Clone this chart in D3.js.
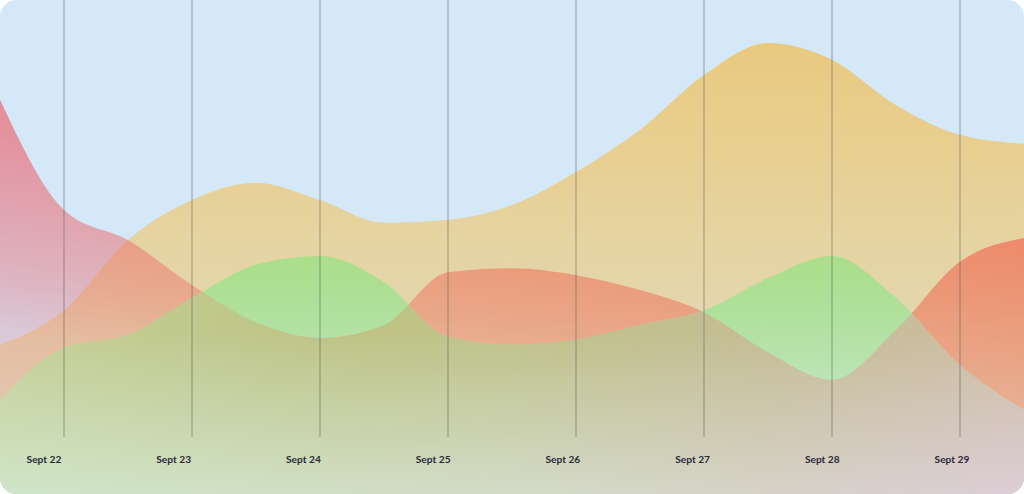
<!DOCTYPE html>
<html><head><meta charset="utf-8">
<script src="https://cdn.jsdelivr.net/npm/d3@7"></script>
<style>
html,body{margin:0;padding:0;background:#fff;}
svg{display:block;}
</style></head><body>
<svg id="chart" width="1024" height="494"></svg>
<script>
// ---- data ----
const days = ["Sept 22","Sept 23","Sept 24","Sept 25","Sept 26","Sept 27","Sept 28","Sept 29"];
const dayValues = [22,23,24,25,26,27,28,29];
const steps = [21.5,22,22.5,23,23.5,24,24.5,25,25.5,26,26.5,27,27.5,28,28.5,29,29.5];
const orangeSeries = [30.2,37.2,51.4,59.5,63.0,59.5,54.9,55.5,58.5,65.2,73.7,84.8,91.3,87.9,78.7,72.7,70.9];
const redSeries    = [79.8,57.5,51.4,42.3,34.8,31.6,34.2,44.9,45.7,44.3,41.3,36.8,28.7,23.1,33.2,47.0,51.8];
const greenSeries  = [19.0,29.6,32.2,39.7,46.4,48.2,42.9,31.8,30.2,31.2,34.2,37.2,43.7,48.2,39.7,26.1,17.0];

// ---- layout ----
const W = 1024, H = 494;
const svg = d3.select("#chart");
const defs = svg.append("defs");

const x = d3.scaleLinear().domain([21.5, 29.5]).range([0, W]);
const y = d3.scaleLinear().domain([0, 100]).range([H, 0]);
const xLabel = d3.scalePoint().domain(days).range([44, 952]);

function linGrad(id, a, stops) {
  const gr = defs.append("linearGradient").attr("id", id).attr("gradientUnits", "userSpaceOnUse")
    .attr("x1", a[0]).attr("y1", a[1]).attr("x2", a[2]).attr("y2", a[3]);
  stops.forEach(s => gr.append("stop").attr("offset", s[0]).attr("stop-color", s[1])
    .attr("stop-opacity", s[2] === undefined ? 1 : s[2]));
}

linGrad("orangeGrad", [0, 40, 0, 494], [
  [0, "#e9c97f"], [0.242, "#e8cf91"], [0.463, "#e5d4a3"], [0.683, "#e2d8b2"], [1, "#e0dcc4"]]);
linGrad("redColor", [0, 0, 1024, 0], [
  [0, "#ea6f7a"], [0.12, "#ec6f70"], [0.22, "#f06e5e"], [1, "#f06e55"]]);
linGrad("redMaskGrad", [0, 0, -53.7, 488], [
  [0, "#fff", 0.78], [0.202, "#fff", 0.76], [0.304, "#fff", 0.68], [0.405, "#fff", 0.58],
  [0.567, "#fff", 0.42], [0.668, "#fff", 0.26], [0.81, "#fff", 0.18], [1, "#fff", 0.15]]);
linGrad("greenGrad", [0, 250, 0, 494], [
  [0, "#a9de87"], [0.205, "#aee098"], [0.369, "#b4e2a6"], [0.574, "#bee5b8"], [1, "#cde8cc"]]);
linGrad("oliveTop", [0, 0, 1024, 0], [
  [0, "#c5cf95"], [0.2, "#c0c88c"], [0.35, "#bec384"], [0.5, "#bfc289"], [0.7, "#c4be92"],
  [0.8, "#c7bc96"], [1, "#cdbea3"]]);
linGrad("oliveBot", [0, 0, 1024, 0], [
  [0, "#d0e5c8"], [0.3, "#d0dfc5"], [0.5, "#d3dbc8"], [0.75, "#d6d2c8"], [1, "#dccdd6"]]);
linGrad("oliveMaskGrad", [0, 330, 0, 494], [[0, "#000"], [1, "#fff"]]);

function addMask(id, gradId) {
  defs.append("mask").attr("id", id).attr("maskUnits", "userSpaceOnUse")
    .attr("x", 0).attr("y", 0).attr("width", W).attr("height", H)
    .append("rect").attr("width", W).attr("height", H).attr("fill", `url(#${gradId})`);
}
addMask("redMask", "redMaskGrad");
addMask("oliveMask", "oliveMaskGrad");

defs.append("clipPath").attr("id", "frame").append("rect")
  .attr("width", W).attr("height", H).attr("rx", 17).attr("ry", 17);

const area = d3.area()
  .x((d, i) => x(steps[i]))
  .y0(H)
  .y1(d => y(d))
  .curve(d3.curveMonotoneX);

defs.append("clipPath").attr("id", "redClip").append("path").datum(redSeries).attr("d", area);

const g = svg.append("g").attr("clip-path", "url(#frame)");
g.append("rect").attr("width", W).attr("height", H).attr("fill", "#d4e8f8");

g.append("path").datum(orangeSeries).attr("d", area).attr("fill", "url(#orangeGrad)");
g.append("path").datum(redSeries).attr("d", area).attr("fill", "url(#redColor)").attr("mask", "url(#redMask)");
g.append("path").datum(greenSeries).attr("d", area).attr("fill", "url(#greenGrad)");

const olive = g.append("g").attr("clip-path", "url(#redClip)");
olive.append("path").datum(greenSeries).attr("d", area).attr("fill", "url(#oliveTop)");
olive.append("path").datum(greenSeries).attr("d", area).attr("fill", "url(#oliveBot)").attr("mask", "url(#oliveMask)");

g.selectAll("line.grid").data(dayValues).join("line")
  .attr("class", "grid")
  .attr("x1", d => x(d)).attr("x2", d => x(d))
  .attr("y1", 0).attr("y2", 437)
  .attr("stroke", "#50566a").attr("stroke-opacity", 0.38).attr("stroke-width", 1.4);

g.selectAll("text.day").data(days).join("text")
  .attr("class", "day")
  .attr("x", d => xLabel(d)).attr("y", 463)
  .attr("text-anchor", "middle")
  .attr("font-family", "Lato, 'Open Sans', sans-serif")
  .attr("font-weight", 700)
  .attr("font-size", "10.2px")
  .attr("fill", "#2a2838")
  .text(d => d);
</script>
</body></html>
